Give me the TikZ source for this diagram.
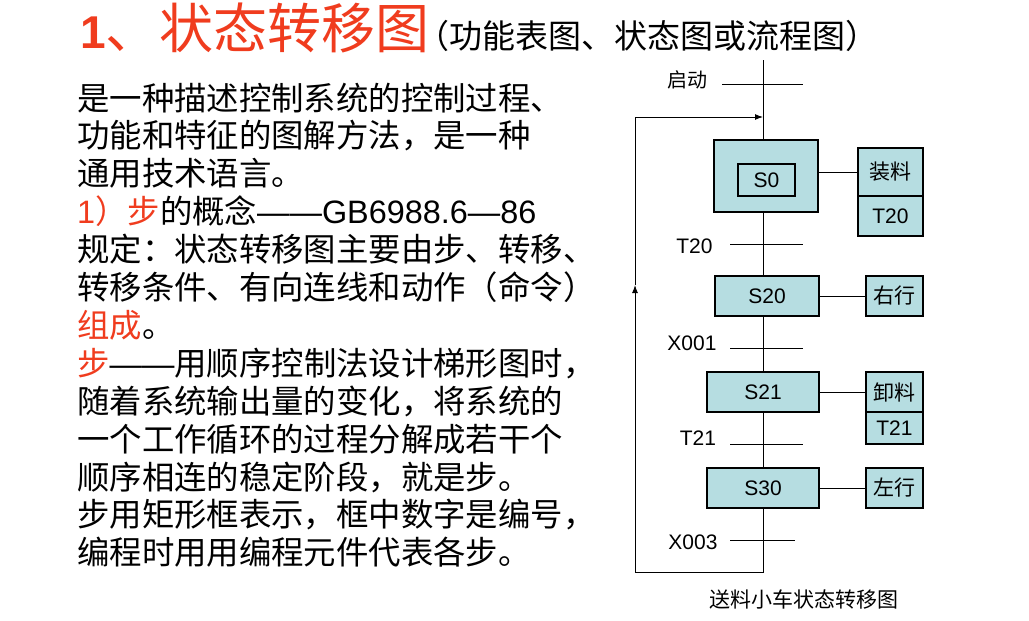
\documentclass[tikz,border=0pt]{standalone}
\usepackage{fontspec}
\setmainfont{Liberation Sans}
\newfontfamily\cjk{Noto Sans CJK SC}
\usetikzlibrary{arrows.meta}
\definecolor{titlered}{RGB}{240,60,30}
\definecolor{stepfill}{RGB}{182,221,225}
\begin{document}
\begin{tikzpicture}[x=1pt,y=-1pt,
  bodyline/.style={anchor=base west, inner sep=0pt, font=\cjk\fontsize{32.4}{38}\selectfont},
  stepbox/.style={draw, fill=stepfill, line width=1.3pt, inner sep=0pt, font=\fontsize{21}{25}\selectfont},
  lbl/.style={inner sep=0pt, font=\fontsize{21}{25}\selectfont},
  conn/.style={line width=1pt},
  tip/.style={-{Latex[length=8pt,width=6pt]}}
]
\useasboundingbox[fill=white] (0,0) rectangle (1029,621);

% title
\node[anchor=base west, inner sep=0pt, text=titlered] (title) at (80,48)
  {{\fontsize{46}{50}\selectfont\bfseries 1}{\cjk\fontsize{54}{58}\selectfont 、状态转移图}};
\node[anchor=base west, inner sep=0pt, font=\cjk\fontsize{33}{37}\selectfont] (subtitle) at (416,48)
  {（功能表图、状态图或流程图）};

% body text
\node[bodyline] (b1) at (77,110) {是一种描述控制系统的控制过程、};
\node[bodyline] (b2) at (77,147.9) {功能和特征的图解方法，是一种};
\node[bodyline] (b3) at (77,185.8) {通用技术语言。};
\node[bodyline] (b4) at (77,223.7) {\textcolor{titlered}{{\rmfamily 1}）步}的概念{\rmfamily ——GB6988.6—86}};
\node[bodyline] (b5) at (77,261.6) {规定：状态转移图主要由步、转移、};
\node[bodyline] (b6) at (77,299.5) {转移条件、有向连线和动作（命令）};
\node[bodyline] (b7) at (77,337.4) {\textcolor{titlered}{组成}。};
\node[bodyline] (b8) at (77,375.3) {\textcolor{titlered}{步}{\rmfamily ——}用顺序控制法设计梯形图时，};
\node[bodyline] (b9) at (77,413.2) {随着系统输出量的变化，将系统的};
\node[bodyline] (b10) at (77,451.1) {一个工作循环的过程分解成若干个};
\node[bodyline] (b11) at (77,489) {顺序相连的稳定阶段，就是步。};
\node[bodyline] (b12) at (77,526.9) {步用矩形框表示，框中数字是编号，};
\node[bodyline] (b13) at (77,564.8) {编程时用用编程元件代表各步。};

% diagram coordinates
\coordinate (top) at (763,60);
\coordinate (br) at (763,572);
\coordinate (bl) at (635,572);
\coordinate (mid) at (635,285);
\coordinate (tl) at (635,117);
\coordinate (tr) at (763,117);

% step boxes
\node[stepbox, minimum width=104pt, minimum height=72pt] (s0) at (766,176) {};
\node[stepbox, minimum width=57pt, minimum height=32pt] (s0in) at (766.5,180) {S0};
\node[stepbox, minimum width=104pt, minimum height=40pt] (s20) at (767,296) {S20};
\node[stepbox, minimum width=112pt, minimum height=40pt] (s21) at (763,392) {S21};
\node[stepbox, minimum width=112pt, minimum height=40pt] (s30) at (763,488) {S30};

% action boxes
\node[stepbox, minimum width=65pt, minimum height=48pt] (a0a) at (890.5,172) {\cjk 装料};
\node[stepbox, minimum width=65pt, minimum height=40pt] (a0b) at (890.5,216) {T20};
\node[stepbox, minimum width=57pt, minimum height=40pt] (a1) at (894.5,296) {\cjk 右行};
\node[stepbox, minimum width=57pt, minimum height=40pt] (a2a) at (894.5,392) {\cjk 卸料};
\node[stepbox, minimum width=57pt, minimum height=32pt] (a2b) at (894.5,428) {T21};
\node[stepbox, minimum width=57pt, minimum height=40pt] (a3) at (894.5,488) {\cjk 左行};

% main line
\draw[conn] (top) -- (top |- s0.north);
\draw[conn] (top |- s0.south) -- (top |- s20.north);
\draw[conn] (top |- s20.south) -- (top |- s21.north);
\draw[conn] (top |- s21.south) -- (top |- s30.north);
\draw[conn] (top |- s30.south) -- (br) -- (bl);
\draw[conn, tip] (bl) -- (mid);
\draw[conn] (mid) -- (tl);
\draw[conn, tip] (tl) -- (tr);

% action connectors
\draw[conn] (s0.east |- a0a.west) -- (a0a.west);
\draw[conn] (s20.east) -- (a1.west);
\draw[conn] (s21.east) -- (a2a.west);
\draw[conn] (s30.east) -- (a3.west);

% transitions
\coordinate (t0a) at (722,84);  \coordinate (t0b) at (803,84);
\coordinate (t1a) at (730,244); \coordinate (t1b) at (803,244);
\coordinate (t2a) at (730,348); \coordinate (t2b) at (803,348);
\coordinate (t3a) at (730,444); \coordinate (t3b) at (803,444);
\coordinate (t4a) at (730,540); \coordinate (t4b) at (795,540);
\draw[conn] (t0a) -- (t0b);
\draw[conn] (t1a) -- (t1b);
\draw[conn] (t2a) -- (t2b);
\draw[conn] (t3a) -- (t3b);
\draw[conn] (t4a) -- (t4b);

\node[lbl, font=\cjk\fontsize{20}{24}\selectfont] (l0) at (687,80) {启动};
\node[lbl] (l1) at (694.5,246) {T20};
\node[lbl] (l2) at (692,343) {X001};
\node[lbl] (l3) at (698,438.5) {T21};
\node[lbl] (l4) at (693,542.5) {X003};

\node[lbl, font=\cjk\fontsize{21}{25}\selectfont] (cap) at (804,600) {送料小车状态转移图};
\end{tikzpicture}
\end{document}
